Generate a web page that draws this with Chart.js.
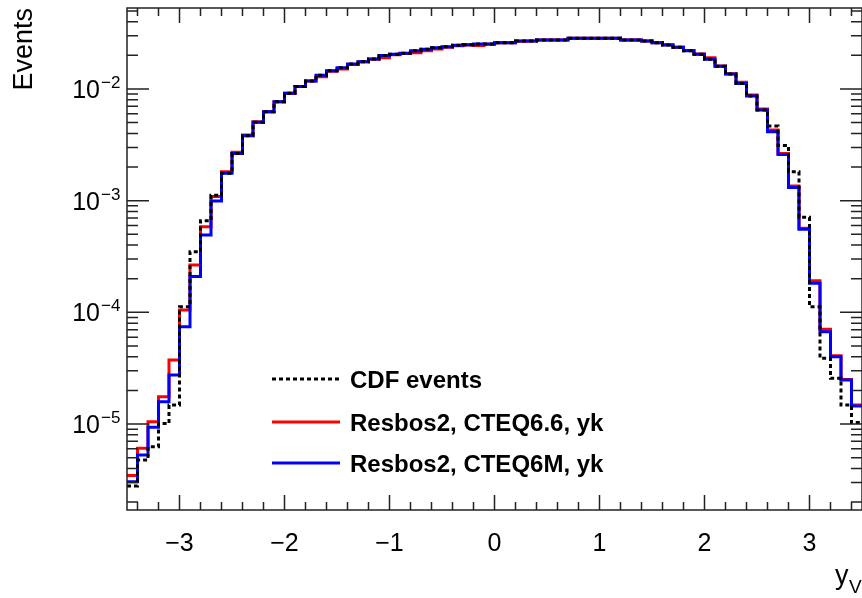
<!DOCTYPE html>
<html>
<head>
<meta charset="utf-8">
<script src="https://cdn.jsdelivr.net/npm/chart.js@4.4.0/dist/chart.umd.min.js"></script>
<style>
  html, body { margin: 0; padding: 0; background: #fff; overflow: hidden; }
  #wrap { width: 862px; height: 598px; }
</style>
</head>
<body>
<div id="wrap"><canvas id="histo"></canvas></div>
<script>
// bin edges of the y_V histogram (70 bins, width 0.1)
const binEdges = [
  -3.5, -3.4, -3.3, -3.2, -3.1, -3.0, -2.9, -2.8, -2.7, -2.6,
  -2.5, -2.4, -2.3, -2.2, -2.1, -2.0, -1.9, -1.8, -1.7, -1.6,
  -1.5, -1.4, -1.3, -1.2, -1.1, -1.0, -0.9, -0.8, -0.7, -0.6,
  -0.5, -0.4, -0.3, -0.2, -0.1, 0.0, 0.1, 0.2, 0.3, 0.4,
  0.5, 0.6, 0.7, 0.8, 0.9, 1.0, 1.1, 1.2, 1.3, 1.4,
  1.5, 1.6, 1.7, 1.8, 1.9, 2.0, 2.1, 2.2, 2.3, 2.4,
  2.5, 2.6, 2.7, 2.8, 2.9, 3.0, 3.1, 3.2, 3.3, 3.4, 3.5
];

// CDF events (black dotted)
const cdfEvents = [
  2.79e-6, 4.76e-6, 6.26e-6, 1.01e-5, 1.48e-5, 1.12e-4, 3.49e-4, 6.62e-4, 1.12e-3, 1.76e-3,
  2.65e-3, 3.82e-3, 5.03e-3, 6.26e-3, 7.69e-3, 9.15e-3, 1.05e-2, 1.18e-2, 1.33e-2, 1.46e-2,
  1.55e-2, 1.67e-2, 1.75e-2, 1.86e-2, 1.99e-2, 2.05e-2, 2.09e-2, 2.20e-2, 2.27e-2, 2.34e-2,
  2.39e-2, 2.46e-2, 2.49e-2, 2.53e-2, 2.53e-2, 2.60e-2, 2.60e-2, 2.69e-2, 2.69e-2, 2.75e-2,
  2.75e-2, 2.75e-2, 2.85e-2, 2.85e-2, 2.85e-2, 2.85e-2, 2.85e-2, 2.75e-2, 2.75e-2, 2.69e-2,
  2.60e-2, 2.48e-2, 2.36e-2, 2.20e-2, 2.05e-2, 1.85e-2, 1.60e-2, 1.36e-2, 1.12e-2, 8.66e-3,
  6.48e-3, 4.66e-3, 3.12e-3, 1.82e-3, 7.10e-4, 1.12e-4, 3.88e-5, 2.57e-5, 1.48e-5, 1.03e-5
];

// Resbos2, CTEQ6.6, yk (red)
const cteq66 = [
  3.47e-6, 6.06e-6, 1.05e-5, 1.76e-5, 3.74e-5, 1.05e-4, 2.65e-4, 5.85e-4, 1.09e-3, 1.82e-3,
  2.71e-3, 3.87e-3, 5.08e-3, 6.26e-3, 7.69e-3, 9.15e-3, 1.05e-2, 1.18e-2, 1.29e-2, 1.44e-2,
  1.51e-2, 1.66e-2, 1.75e-2, 1.85e-2, 1.90e-2, 2.03e-2, 2.08e-2, 2.11e-2, 2.20e-2, 2.28e-2,
  2.37e-2, 2.44e-2, 2.48e-2, 2.45e-2, 2.52e-2, 2.59e-2, 2.60e-2, 2.68e-2, 2.69e-2, 2.74e-2,
  2.75e-2, 2.75e-2, 2.84e-2, 2.85e-2, 2.85e-2, 2.85e-2, 2.84e-2, 2.75e-2, 2.74e-2, 2.69e-2,
  2.60e-2, 2.49e-2, 2.37e-2, 2.21e-2, 2.06e-2, 1.90e-2, 1.61e-2, 1.37e-2, 1.15e-2, 8.84e-3,
  6.62e-3, 4.30e-3, 2.65e-3, 1.35e-3, 5.66e-4, 1.92e-4, 7.05e-5, 4.09e-5, 2.51e-5, 1.48e-5
];

// Resbos2, CTEQ6M, yk (blue)
const cteq6m = [
  3.04e-6, 5.28e-6, 9.35e-6, 1.58e-5, 2.75e-5, 7.43e-5, 2.09e-4, 4.93e-4, 9.93e-4, 1.76e-3,
  2.65e-3, 3.82e-3, 5.03e-3, 6.26e-3, 7.69e-3, 9.15e-3, 1.05e-2, 1.18e-2, 1.33e-2, 1.46e-2,
  1.55e-2, 1.67e-2, 1.75e-2, 1.86e-2, 1.99e-2, 2.05e-2, 2.09e-2, 2.20e-2, 2.27e-2, 2.34e-2,
  2.39e-2, 2.46e-2, 2.49e-2, 2.53e-2, 2.53e-2, 2.60e-2, 2.60e-2, 2.69e-2, 2.69e-2, 2.75e-2,
  2.75e-2, 2.75e-2, 2.85e-2, 2.85e-2, 2.85e-2, 2.85e-2, 2.85e-2, 2.75e-2, 2.75e-2, 2.69e-2,
  2.60e-2, 2.48e-2, 2.36e-2, 2.20e-2, 2.05e-2, 1.85e-2, 1.60e-2, 1.36e-2, 1.12e-2, 8.66e-3,
  6.48e-3, 4.15e-3, 2.59e-3, 1.31e-3, 5.54e-4, 1.82e-4, 6.71e-5, 4.01e-5, 2.48e-5, 1.45e-5
];

const xMajorTicks = [-3, -2, -1, 0, 1, 2, 3];
const xTickLabels = ['\u22123', '\u22122', '\u22121', '0', '1', '2', '3'];
const yMajorTicks = [1e-5, 1e-4, 1e-3, 1e-2];
const yTickExponents = ['\u22125', '\u22124', '\u22123', '\u22122'];
const legendLabels = ['CDF events', 'Resbos2, CTEQ6.6, yk', 'Resbos2, CTEQ6M, yk'];

const FONT = '"Liberation Sans", Arial, Helvetica, sans-serif';

// histogram -> step points (left edge of every bin + closing right edge)
function toSteps(values) {
  const pts = values.map((v, i) => ({ x: binEdges[i], y: v }));
  pts.push({ x: binEdges[values.length], y: values[values.length - 1] });
  return pts;
}

// ROOT-like frame, inner ticks, labels and legend
const rootFrame = {
  id: 'rootFrame',
  afterDraw(chart) {
    const { ctx, chartArea: a, scales: { x, y } } = chart;
    ctx.save();
    ctx.strokeStyle = '#222';
    ctx.lineWidth = 1.5;
    ctx.strokeRect(a.left, a.top, a.right - a.left, a.bottom - a.top);

    ctx.beginPath();
    // x ticks (top and bottom, pointing inwards)
    for (let t = -34; t <= 34; t += 2) {
      const v = t / 10;
      const px = x.getPixelForValue(v);
      const len = (t % 10 === 0) ? 15 : 8;
      ctx.moveTo(px, a.bottom); ctx.lineTo(px, a.bottom - len);
      ctx.moveTo(px, a.top); ctx.lineTo(px, a.top + len);
    }
    // y ticks (left and right)
    for (let k = -6; k <= -1; k++) {
      for (let m = 1; m <= 9; m++) {
        const v = m * Math.pow(10, k);
        if (v < y.min || v > y.max) continue;
        const py = y.getPixelForValue(v);
        const len = (m === 1) ? 22 : 11;
        ctx.moveTo(a.left, py); ctx.lineTo(a.left + len, py);
        ctx.moveTo(a.right, py); ctx.lineTo(a.right - len, py);
      }
    }
    ctx.stroke();

    // tick labels
    ctx.fillStyle = '#000';
    ctx.font = '25px ' + FONT;
    ctx.textAlign = 'center';
    ctx.textBaseline = 'middle';
    xMajorTicks.forEach((v, i) => {
      ctx.fillText(xTickLabels[i], x.getPixelForValue(v), 544);
    });
    yMajorTicks.forEach((v, i) => {
      const py = y.getPixelForValue(v);
      ctx.font = '25px ' + FONT;
      ctx.textAlign = 'right';
      ctx.textBaseline = 'alphabetic';
      ctx.fillText('10', 100, py + 9);
      ctx.font = '17px ' + FONT;
      ctx.textAlign = 'left';
      ctx.fillText(yTickExponents[i], 101, py - 1);
    });

    // axis titles
    ctx.font = '27px ' + FONT;
    ctx.textBaseline = 'middle';
    ctx.save();
    ctx.translate(25, a.top);
    ctx.rotate(-Math.PI / 2);
    ctx.textAlign = 'right';
    ctx.fillText('Events', 0, 0);
    ctx.restore();
    ctx.textAlign = 'left';
    ctx.textBaseline = 'alphabetic';
    ctx.fillText('y', 835, 584);
    ctx.font = '19px ' + FONT;
    ctx.fillText('V', 849, 593);

    // legend
    const rows = [379, 422, 463];
    chart.data.datasets.forEach((ds, i) => {
      ctx.beginPath();
      ctx.strokeStyle = ds.borderColor;
      ctx.lineWidth = 3;
      ctx.setLineDash(ds.borderDash || []);
      ctx.moveTo(272, rows[i]); ctx.lineTo(340, rows[i]);
      ctx.stroke();
      ctx.setLineDash([]);
      ctx.font = 'bold 24px ' + FONT;
      ctx.fillStyle = '#000';
      ctx.textAlign = 'left';
      ctx.textBaseline = 'middle';
      ctx.fillText(legendLabels[i], 350, rows[i] + 2);
    });
    ctx.restore();
  }
};

const ctx = document.getElementById('histo').getContext('2d');
const histoChart = new Chart(ctx, {
  type: 'line',
  data: {
    datasets: [
      { label: legendLabels[0], data: toSteps(cdfEvents), borderColor: '#000000', borderWidth: 3,
        borderDash: [4, 3], stepped: 'before', pointRadius: 0, fill: false, order: 1 },
      { label: legendLabels[1], data: toSteps(cteq66), borderColor: '#ff0000', borderWidth: 3,
        stepped: 'before', pointRadius: 0, fill: false, order: 3 },
      { label: legendLabels[2], data: toSteps(cteq6m), borderColor: '#0000ff', borderWidth: 3,
        stepped: 'before', pointRadius: 0, fill: false, order: 2 }
    ]
  },
  options: {
    responsive: true,
    maintainAspectRatio: false,
    animation: false,
    layout: { padding: { left: 127, top: 8, right: 0, bottom: 88 } },
    plugins: { legend: { display: false }, tooltip: { enabled: false } },
    scales: {
      x: { type: 'linear', min: -3.5, max: 3.5, display: false },
      y: { type: 'logarithmic', min: 1.7e-6, max: 0.0531, display: false }
    }
  },
  plugins: [rootFrame]
});
</script>
</body>
</html>
